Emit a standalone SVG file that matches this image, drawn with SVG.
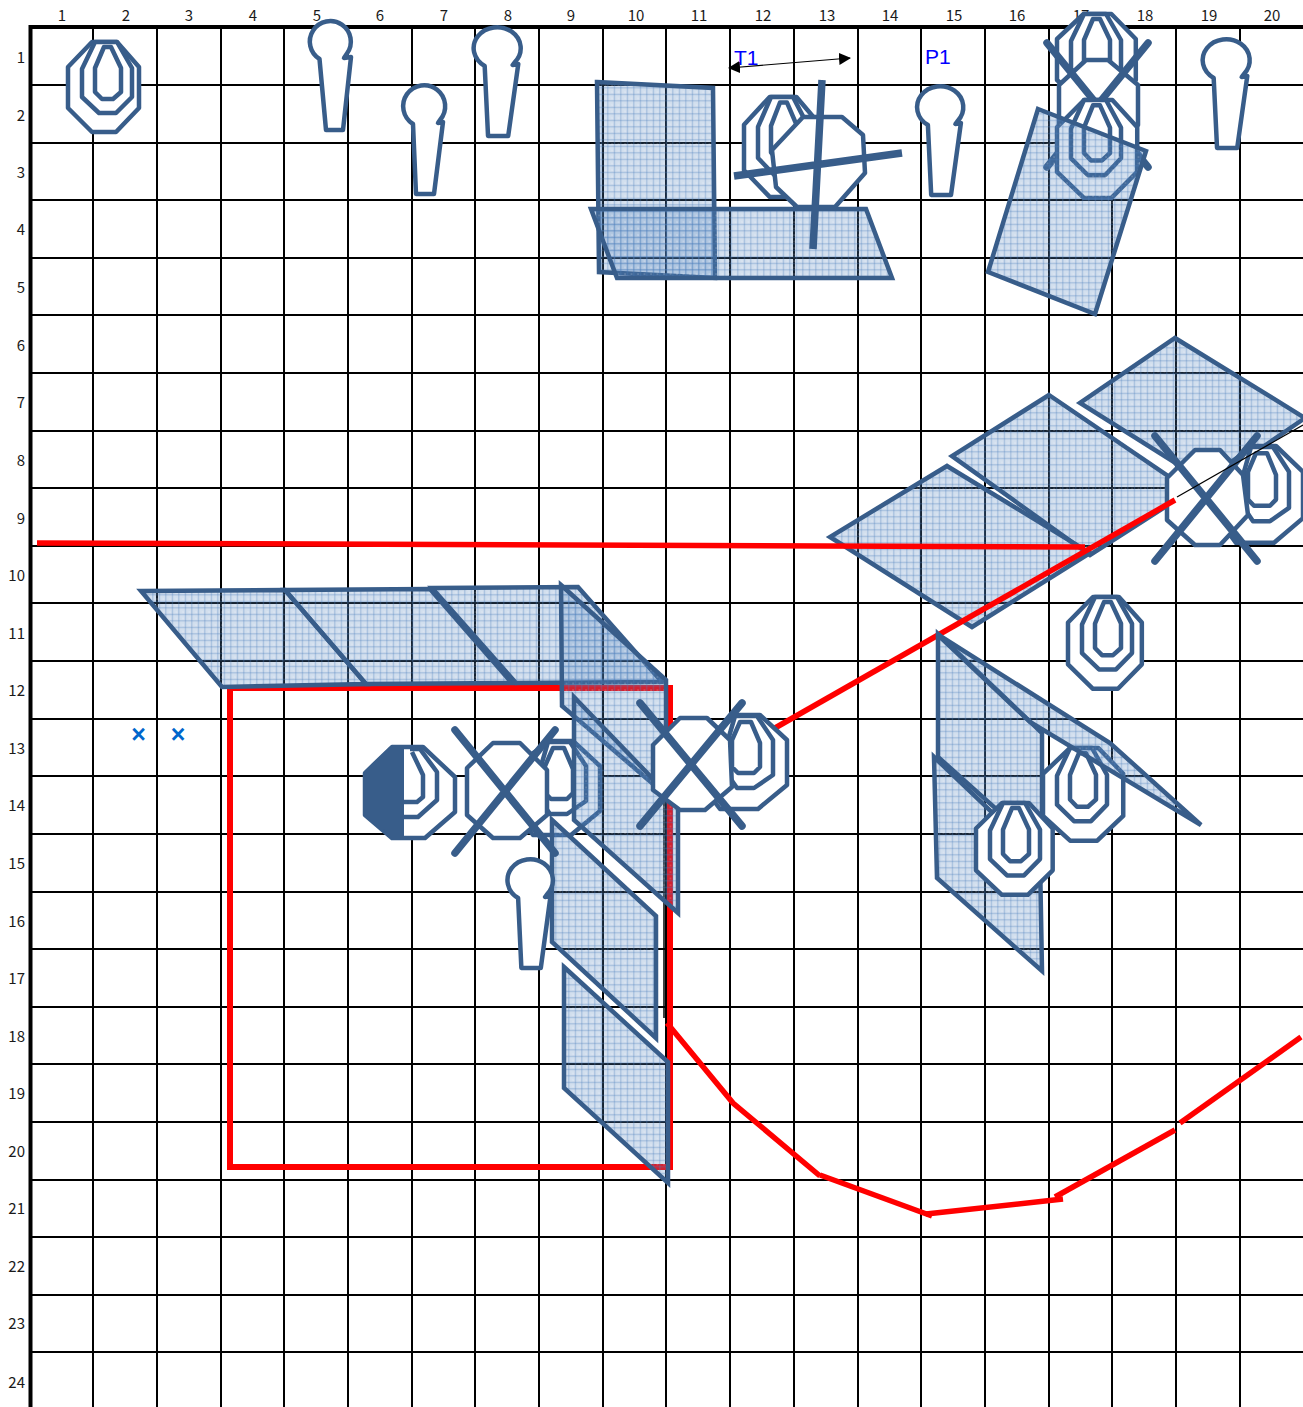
<svg xmlns="http://www.w3.org/2000/svg" xmlns:xlink="http://www.w3.org/1999/xlink" width="1303" height="1407" viewBox="0 0 1303 1407">
<style>
.g{stroke:#000;stroke-width:2;fill:none}
.gb{stroke:#000;stroke-width:4;fill:none}
.n{font-family:"Noto Sans CJK JP","Liberation Sans",sans-serif;font-size:15px;fill:#1a1a1a}
.c{text-anchor:middle}
.r{text-anchor:end}
.lb{font-family:"Liberation Sans",sans-serif;font-size:21px;fill:#0000ff}
.p{fill:url(#hatch);stroke:#385d8a;stroke-width:4.500;stroke-linejoin:miter}
.o,.o polygon,.o path{fill:#fff;stroke:#385d8a;stroke-width:4.500;stroke-linejoin:round;vector-effect:non-scaling-stroke}
.x{stroke:#385d8a;stroke-width:7.500;stroke-linecap:round;fill:none}
.red{stroke:#ff0000;stroke-width:5.500;fill:none}
.tn{stroke:#000;stroke-width:1.200;fill:none}
</style>
<defs>
<pattern id="hatch" width="6.500" height="6.500" patternUnits="userSpaceOnUse">
<rect width="6.500" height="6.500" fill="#4f81bd" fill-opacity="0.26"/>
<rect x="2.750" width="1.200" height="6.500" fill="#4f81bd" fill-opacity="0.36"/>
<rect y="2.750" width="6.500" height="1.200" fill="#4f81bd" fill-opacity="0.36"/>
<rect x="0.500" y="0.500" width="1" height="1" fill="#fff" fill-opacity="0.5"/>
</pattern>
<marker id="ah" viewBox="0 0 12 12" refX="11" refY="6" markerWidth="12" markerHeight="12" markerUnits="userSpaceOnUse" orient="auto-start-reverse"><path d="M0 0L12 6L0 12Z" fill="#000"/></marker>
<polygon id="outer" class="o" points="24,0 49,0 71,25 71,66 48,90 24,90 0,66 0,25"/>
<g id="core" class="o">
<polygon points="27,0 49,0 64,26 64,55 48,71 31,71 14,55 14,27"/>
<polygon points="27,26 27,50 34,57 45,57 53,50 53,26 43,5 36,5"/>
</g>
<g id="target2" class="o">
<polygon points="5,0 28,0 55,25 55,70 26,94 -12,94 -30,70 -30,25"/>
<polygon points="3,1 25,1 41,25 41,60 22,73 5,73 -4,60 -4,25"/>
<polygon points="8,7 19,7 28,28 28,52 22,58 6,58 0,52 0,25"/>
</g>
<path id="person" class="o" d="M-11,18 A21,21 0 1 1 16,14 L14,17 L19,16 L10,88 L-8,88 Z"/>
</defs>
<rect width="1303" height="1407" fill="#fff"/>
<g id="grid">
<path class="g" d="M93 27V1407M157 27V1407M221 27V1407M284 27V1407M348 27V1407M412 27V1407M475 27V1407M539 27V1407M603 27V1407M666 27V1407M730 27V1407M794 27V1407M858 27V1407M921 27V1407M985 27V1407M1049 27V1407M1112 27V1407M1176 27V1407M1240 27V1407"/>
<path class="g" d="M30 85H1303M30 143H1303M30 200H1303M30 258H1303M30 315H1303M30 373H1303M30 431H1303M30 488H1303M30 546H1303M30 603H1303M30 661H1303M30 719H1303M30 776H1303M30 834H1303M30 892H1303M30 949H1303M30 1007H1303M30 1064H1303M30 1122H1303M30 1180H1303M30 1237H1303M30 1295H1303M30 1352H1303"/>
<path class="gb" d="M30.500 1407V27H1303"/>
</g>
<g id="col-labels" class="n c">
<text x="62" y="21">1</text><text x="126" y="21">2</text><text x="189" y="21">3</text><text x="253" y="21">4</text><text x="317" y="21">5</text><text x="380" y="21">6</text><text x="444" y="21">7</text><text x="508" y="21">8</text><text x="571" y="21">9</text><text x="636" y="21">10</text><text x="699" y="21">11</text><text x="763" y="21">12</text><text x="827" y="21">13</text><text x="890" y="21">14</text><text x="954" y="21">15</text><text x="1017" y="21">16</text><text x="1081" y="21">17</text><text x="1145" y="21">18</text><text x="1209" y="21">19</text><text x="1272" y="21">20</text>
</g>
<g id="row-labels" class="n r">
<text x="25" y="63">1</text><text x="25" y="121">2</text><text x="25" y="178">3</text><text x="25" y="235">4</text><text x="25" y="293">5</text><text x="25" y="351">6</text><text x="25" y="408">7</text><text x="25" y="466">8</text><text x="25" y="524">9</text><text x="25" y="581">10</text><text x="25" y="639">11</text><text x="25" y="696">12</text><text x="25" y="754">13</text><text x="25" y="811">14</text><text x="25" y="869">15</text><text x="25" y="927">16</text><text x="25" y="984">17</text><text x="25" y="1042">18</text><text x="25" y="1099">19</text><text x="25" y="1157">20</text><text x="25" y="1214">21</text><text x="25" y="1272">22</text><text x="25" y="1329">23</text><text x="25" y="1388">24</text>
</g>
<g id="label-T1"><text class="lb" x="734" y="65">T1</text></g>
<g id="label-P1"><text class="lb" x="925" y="64">P1</text></g>
<g id="marks" font-family="Liberation Sans, sans-serif" font-size="25" font-weight="bold" fill="#0066cc" text-anchor="middle">
<text x="138.500" y="743">×</text><text x="178" y="743">×</text>
</g>
<g id="panel-d1"><polygon class="p" points="1175,338 1305,418 1209,484 1080,403"/></g>
<g id="panel-d2"><polygon class="p" points="1049,395 1190,491 1090,555 952,456"/></g>
<g id="panel-d3"><polygon class="p" points="947,466 1090,553 972,627 830,537"/></g>
<g id="target-right"><use xlink:href="#target2" href="#target2" transform="translate(1248,446) scale(1,1.03)"/></g>
<g id="stop-right">
<polygon class="o" points="1195,450 1220,450 1243,475 1248,515 1220,545 1195,545 1167,520 1167,478"/>
<path class="x" d="M1155,436L1257,561M1257,436L1155,561"/>
</g>
<g id="connectors">
<path class="red" stroke-width="6" style="stroke-width:6" d="M230,688H670V1167H230Z"/>
<path class="red" d="M37,543L1085,547"/>
<path class="red" d="M775,728L1175,500"/>
<path class="tn" d="M1177,497L1303,425"/>
<path class="tn" style="stroke-width:1.500" d="M664,800V1018"/>
<path class="red" d="M667,1023L733,1103L820,1176"/>
<path class="red" d="M820,1175L932,1216"/>
<path class="red" d="M926,1214L1063,1199"/>
<path class="red" d="M1055,1197L1175,1130"/>
<path class="red" d="M1180,1123L1301,1037"/>
<path class="tn" marker-start="url(#ah)" marker-end="url(#ah)" d="M729,68L850,58"/>
</g>
<g id="target-1"><use xlink:href="#outer" href="#outer" transform="translate(68,42)"/><use xlink:href="#core" href="#core" transform="translate(68,42)"/></g>
<g id="person-1"><path class="o" d="M319.500,59 A20.500,20.500 0 1 1 347,53.500 L344,58 L351,57 L343,130 L326,130 Z"/></g>
<g id="person-2"><use xlink:href="#person" href="#person" transform="translate(424,106)"/></g>
<g id="person-3"><use xlink:href="#person" href="#person" transform="translate(497,48) scale(1.12,1)"/></g>
<g id="person-4"><use xlink:href="#person" href="#person" transform="translate(940,107) scale(1.1,1)"/></g>
<g id="person-5"><use xlink:href="#person" href="#person" transform="translate(1226,60) scale(1.12,1)"/></g>
<g id="panel-a"><polygon class="p" points="597,82 713,88 715,278 599,272"/></g>
<g id="panel-b"><polygon class="p" points="591,209 866,209 892,278 617,278"/></g>
<g id="target-12"><use xlink:href="#outer" href="#outer" transform="translate(744,97) scale(1.07,1.11)"/><use xlink:href="#core" href="#core" transform="translate(744,97) scale(1,1.11)"/></g>
<g id="stop-12">
<polygon class="o" points="803,117 842,117 863,135 865,173 835,207 797,207 776,187 772,150"/>
<path class="x" style="stroke-linecap:butt" d="M734,176L902,153M822,80L813,249"/>
</g>
<g id="target-17a"><use xlink:href="#outer" href="#outer" transform="translate(1057,14) scale(1.11,1)"/><use xlink:href="#core" href="#core" transform="translate(1057,14)"/></g>
<g id="stop-17">
<polygon class="o" points="1086,60 1108,60 1138,85 1138,125 1108,150 1086,150 1059,125 1059,85"/>
<path class="x" d="M1047,43L1148,167M1148,43L1047,167"/>
</g>
<g id="target-17b"><use xlink:href="#outer" href="#outer" transform="translate(1057,100) scale(1.13,1.09)"/><use xlink:href="#core" href="#core" transform="translate(1057,100) scale(1,1.06)"/></g>
<g id="panel-c"><polygon class="p" points="1038,109 1146,151 1095,314 988,272"/></g>
<g id="panel-l1"><polygon class="p" points="141,591 285,590 366,684 222,687"/></g>
<g id="panel-l2"><polygon class="p" points="285,590 430,589 512,683 366,684"/></g>
<g id="panel-l3"><polygon class="p" points="432,588 578,587 662,682 516,683"/></g>
<g id="panel-c1"><polygon class="p" points="561,585 666,680 666,795 562,706"/></g>
<g id="target-9"><use xlink:href="#target2" href="#target2" transform="translate(545,741)"/></g>
<g id="panel-c2"><polygon class="p" points="574,697 678,805 678,913 574,820"/></g>
<g id="panel-c3"><polygon class="p" points="552,820 656,916 656,1038 552,942"/></g>
<g id="panel-c4"><polygon class="p" points="564,967 668,1062 668,1183 564,1088"/></g>
<g id="target-half">
<polygon class="o" points="392,747 423,747 455,777 455,812 425,838 392,838 365,815 365,773"/>
<path class="o" style="fill:none" d="M410,749L420,749L437,772L437,800L418,817L403,817"/>
<path class="o" style="fill:none" d="M412,752L423,775L423,797L417,802L403,802"/>
<polygon fill="#385d8a" stroke="#385d8a" stroke-width="2" points="365,773 390,748 403,748 403,838 392,838 365,815"/>
</g>
<g id="stop-8">
<polygon class="o" points="493,743 520,743 547,770 547,815 520,838 493,838 467,815 467,768"/>
<path class="x" d="M455,730L555,853M555,730L455,853"/>
</g>
<g id="person-6"><use xlink:href="#person" href="#person" transform="translate(530,880) scale(1.08,1)"/></g>
<g id="target-11"><use xlink:href="#target2" href="#target2" transform="translate(732,715)"/></g>
<g id="stop-11">
<polygon class="o" points="680,718 707,718 730,740 732,787 705,810 680,810 653,790 653,745"/>
<path class="x" d="M640,703L742,826M742,703L640,826"/>
</g>
<g id="target-16"><use xlink:href="#outer" href="#outer" transform="translate(1068,597) scale(1.04,1.02)"/><use xlink:href="#core" href="#core" transform="translate(1068,597) scale(1,1.02)"/></g>
<g id="panel-r1"><polygon class="p" points="938,634 1042,733 1042,850 938,757"/></g>
<g id="panel-r2"><polygon class="p" points="934,757 1040,858 1042,971 937,878"/></g>
<g id="target-r2"><use xlink:href="#outer" href="#outer" transform="translate(1043,748) scale(1.13,1.03)"/><use xlink:href="#core" href="#core" transform="translate(1043,748) scale(1,1.03)"/></g>
<g id="panel-r3"><polygon class="p" points="937,634 1110,743 1201,825 1030,722"/></g>
<g id="target-r3"><use xlink:href="#outer" href="#outer" transform="translate(976,803) scale(1.08,1.02)"/><use xlink:href="#core" href="#core" transform="translate(976,803) scale(1,1.02)"/></g>
</svg>
